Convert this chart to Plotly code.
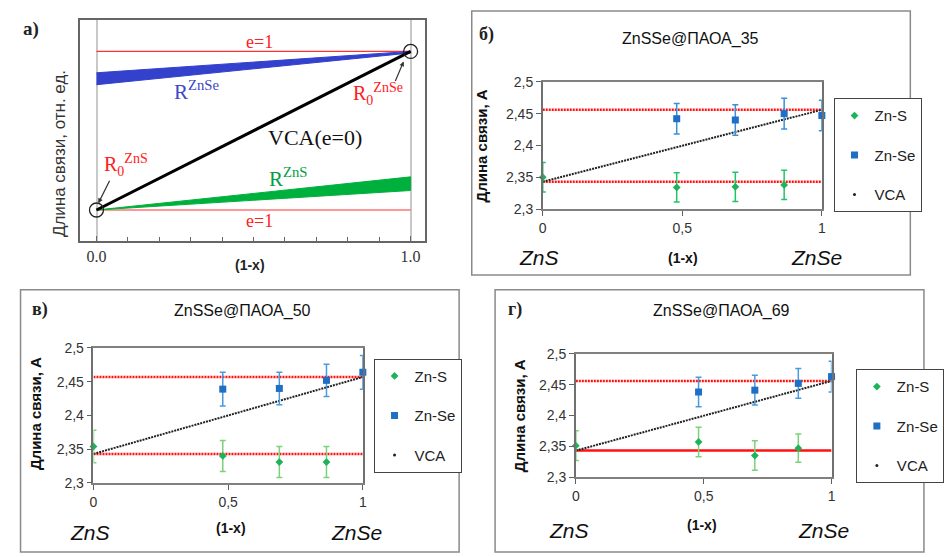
import plotly.graph_objects as go

W, H = 944, 557

# ---------------- data ----------------
# Panel а (schematic, relative units)
a_x = [0.0, 1.0]
a_vca = [0.0, 1.0]
a_e1_low = [0.0, 0.0]
a_e1_high = [1.0, 1.0]
a_rznse_lower = [0.79, 0.99]
a_rznse_upper = [0.865, 1.0]
a_rzns_lower = [0.0, 0.123]
a_rzns_upper = [0.0, 0.209]
a_tickvals = [i / 10 for i in range(11)]

# Panel б  ZnSSe@ПАОА_35
b_zns_x = [0.0, 0.48, 0.69, 0.865]
b_zns_y = [2.350, 2.334, 2.335, 2.338]
b_zns_e = [0.023, 0.023, 0.023, 0.023]
b_znse_x = [0.48, 0.69, 0.865, 1.0]
b_znse_y = [2.442, 2.440, 2.450, 2.447]
b_znse_e = [0.024, 0.024, 0.024, 0.024]
b_ref = [2.343, 2.456]

# Panel в  ZnSSe@ПАОА_50
c_zns_x = [0.0, 0.48, 0.69, 0.865]
c_zns_y = [2.354, 2.340, 2.331, 2.331]
c_zns_e = [0.024, 0.023, 0.023, 0.023]
c_znse_x = [0.48, 0.69, 0.865, 1.0]
c_znse_y = [2.439, 2.440, 2.452, 2.464]
c_znse_e = [0.025, 0.024, 0.024, 0.025]
c_ref = [2.343, 2.457]

# Panel г  ZnSSe@ПАОА_69
d_zns_x = [0.0, 0.48, 0.70, 0.87]
d_zns_y = [2.351, 2.357, 2.335, 2.347]
d_zns_e = [0.024, 0.024, 0.024, 0.023]
d_znse_x = [0.48, 0.70, 0.87, 1.0]
d_znse_y = [2.438, 2.441, 2.452, 2.463]
d_znse_e = [0.024, 0.024, 0.024, 0.025]
d_ref = [2.343, 2.456]

ends = [0.0, 1.0]
yticks = [2.3, 2.35, 2.4, 2.45, 2.5]


def px(x):
    return x / W


def py(y):
    return 1 - y / H


fig = go.Figure()

SANS = "Liberation Sans, Arial, sans-serif"
SERIF = "Liberation Serif, Times New Roman, serif"

# ---------------- panel а ----------------
fig.add_trace(go.Scatter(x=a_x, y=a_e1_low, mode="lines", line=dict(color="#ff3030", width=1.2),
                         xaxis="x", yaxis="y", showlegend=False, hoverinfo="skip"))
fig.add_trace(go.Scatter(x=a_x, y=a_e1_high, mode="lines", line=dict(color="#ff3030", width=1.2),
                         xaxis="x", yaxis="y", showlegend=False, hoverinfo="skip"))
fig.add_trace(go.Scatter(x=a_x + a_x[::-1], y=a_rznse_lower + a_rznse_upper[::-1], mode="lines",
                         fill="toself", fillcolor="#3341cc", line=dict(color="#3341cc", width=1),
                         xaxis="x", yaxis="y", showlegend=False, hoverinfo="skip"))
fig.add_trace(go.Scatter(x=a_x + a_x[::-1], y=a_rzns_lower + a_rzns_upper[::-1], mode="lines",
                         fill="toself", fillcolor="#00b03c", line=dict(color="#00b03c", width=1),
                         xaxis="x", yaxis="y", showlegend=False, hoverinfo="skip"))
fig.add_trace(go.Scatter(x=a_x, y=a_vca, mode="lines", line=dict(color="black", width=3),
                         xaxis="x", yaxis="y", showlegend=False, hoverinfo="skip"))
fig.add_trace(go.Scatter(x=a_x, y=a_vca, mode="markers",
                         marker=dict(symbol="circle-open", size=14, color="#222", line=dict(width=1.3)),
                         xaxis="x", yaxis="y", showlegend=False, hoverinfo="skip", cliponaxis=False))

# ---------------- panels б, в, г ----------------
panels = [
    ("2", "legend", b_zns_x, b_zns_y, b_zns_e, b_znse_x, b_znse_y, b_znse_e, b_ref, "#22c46a", "#3a90d8", "dot"),
    ("3", "legend2", c_zns_x, c_zns_y, c_zns_e, c_znse_x, c_znse_y, c_znse_e, c_ref, "#7ad27a", "#4a9ae0", "dot"),
    ("4", "legend3", d_zns_x, d_zns_y, d_zns_e, d_znse_x, d_znse_y, d_znse_e, d_ref, "#7ad27a", "#4a9ae0", "solid"),
]

for (n, leg, zx, zy, ze, sx, sy, se, ref, gerr, berr, lowdash) in panels:
    xa, ya = "x" + n, "y" + n
    fig.add_trace(go.Scatter(x=ends, y=[ref[1], ref[1]], mode="lines",
                             line=dict(color="#ff1010", width=2.5, dash="2px,1px"),
                             xaxis=xa, yaxis=ya, showlegend=False, hoverinfo="skip"))
    low_line = dict(color="#ff1010", width=2.5) if lowdash == "solid" else \
        dict(color="#ff1010", width=2.5, dash="2px,1px")
    fig.add_trace(go.Scatter(x=ends, y=[ref[0], ref[0]], mode="lines", line=low_line,
                             xaxis=xa, yaxis=ya, showlegend=False, hoverinfo="skip"))
    fig.add_trace(go.Scatter(x=ends, y=ref, mode="lines",
                             line=dict(color="#222", width=2, dash="2px,1px"),
                             xaxis=xa, yaxis=ya, showlegend=False, hoverinfo="skip"))
    fig.add_trace(go.Scatter(x=zx, y=zy, mode="markers", name="Zn-S",
                             marker=dict(symbol="diamond", size=6, color="#1db35a"),
                             error_y=dict(type="data", array=ze, color=gerr, thickness=1.5, width=3),
                             xaxis=xa, yaxis=ya, legend=leg, legendgroup=n + "a", cliponaxis=False))
    fig.add_trace(go.Scatter(x=sx, y=sy, mode="markers", name="Zn-Se",
                             marker=dict(symbol="square", size=7, color="#1f6fc4"),
                             error_y=dict(type="data", array=se, color=berr, thickness=1.5, width=3),
                             xaxis=xa, yaxis=ya, legend=leg, legendgroup=n + "b", cliponaxis=False))
    fig.add_trace(go.Scatter(x=[None], y=[None], mode="markers", name="VCA",
                             marker=dict(symbol="circle", size=3, color="#222"),
                             xaxis=xa, yaxis=ya, legend=leg, legendgroup=n + "c"))


# ---------------- layout ----------------
def xdom(l, r):
    return [px(l), px(r)]


def ydom(b, t):
    return [py(b), py(t)]


axis_common = dict(showline=True, mirror=True, linecolor="#808080", linewidth=1.5,
                   showgrid=False, zeroline=False, ticks="outside", ticklen=5,
                   tickcolor="#606060", tickfont=dict(family=SANS, size=14, color="#333"))

layout = dict(
    width=W, height=H, margin=dict(l=0, r=0, t=0, b=0),
    paper_bgcolor="white", plot_bgcolor="white", separators=", ",
    font=dict(family=SANS, color="#222"),
    xaxis=dict(domain=xdom(78, 433), range=[-0.053, 1.046], showline=True, mirror=True,
               linecolor="#666", linewidth=1.5, zeroline=False, tickvals=[0, 1], ticktext=["0.0", "1.0"],
               ticks="inside", ticklen=5, tickcolor="#666", showgrid=True, gridcolor="#c8c8c8", gridwidth=1.5,
               minor=dict(tickvals=a_tickvals, ticks="inside", ticklen=4, tickcolor="#666", showgrid=False),
               tickfont=dict(family=SERIF, size=16, color="#333"), anchor="y"),
    yaxis=dict(domain=ydom(240, 12), range=[-0.196, 1.2], showline=True, mirror=True,
               linecolor="#666", linewidth=1.5, zeroline=False, showticklabels=False, showgrid=False,
               ticks="", anchor="x"),
)

plot_boxes = {"2": (554, 841, 207, 76), "3": (92, 369, 489, 350), "4": (588, 851, 483, 356)}
for n, (l, r, b, t) in plot_boxes.items():
    layout["xaxis" + n] = dict(axis_common, domain=xdom(l, r), range=[0, 1.0], tickvals=[0, 0.5, 1],
                               anchor="y" + n)
    layout["yaxis" + n] = dict(axis_common, domain=ydom(b, t), range=[2.3, 2.5], tickvals=yticks,
                               anchor="x" + n, linecolor="#707070")

leg_common = dict(bgcolor="white", bordercolor="#444", borderwidth=1, xanchor="left", yanchor="top",
                  font=dict(family=SANS, size=15, color="#222"), tracegroupgap=17, itemwidth=30,
                  traceorder="grouped")
layout["legend"] = dict(leg_common, x=px(853), y=py(93))
layout["legend2"] = dict(leg_common, x=px(380), y=py(361))
layout["legend3"] = dict(leg_common, x=px(876), y=py(372))

fig.update_layout(**layout)

# outer frames of panels б, в, г
frames = [(481, 3, 932, 275), (17, 290, 468, 560), (505, 290, 946, 560)]
for (l, t, r, b) in frames:
    fig.add_shape(type="rect", xref="paper", yref="paper", x0=px(l), x1=px(r), y0=py(b), y1=py(t),
                  line=dict(color="#8a8a8a", width=1.5), fillcolor="rgba(0,0,0,0)", layer="below")


def ann(text, x, y, size, color="#222", family=SANS, angle=0, **kw):
    fig.add_annotation(text=text, x=px(x), y=py(y), xref="paper", yref="paper", showarrow=False,
                       font=dict(size=size, color=color, family=family), textangle=angle,
                       xanchor="center", yanchor="middle", **kw)


# panel а texts
ann("<b>а)</b>", 28, 22, 19, "#222", SERIF)
ann("Длина связи, отн. ед.", 57, 150, 17, "#333", SANS, -90)
ann("<b>(1-x)</b>", 253, 265, 14, "#222")
ann("e=1", 263, 35, 18, "#ff2020", SERIF)
ann("e=1", 263, 219, 18, "#ff2020", SERIF)
ann("R<sup>ZnSe</sup>", 198, 85, 21, "#3a48c8", SERIF)
ann("R<sub>0</sub><sup>ZnSe</sup>", 385, 89, 20, "#ff2020", SERIF)
ann("VCA(e=0)", 320, 133, 22, "#111", SERIF)
ann("R<sub>0</sub><sup>ZnS</sup>", 125, 162, 20, "#ff2020", SERIF)
ann("R<sup>ZnS</sup>", 293, 175, 21, "#00a040", SERIF)

# arrows to the circled end points
for (hx, hy, tx, ty) in [(97, 201, 109, 177), (411, 55, 402, 76)]:
    fig.add_annotation(x=px(hx), y=py(hy), xref="paper", yref="paper", ax=tx - hx, ay=ty - hy,
                       axref="pixel", ayref="pixel", text="", showarrow=True, arrowhead=2,
                       arrowsize=0.8, arrowwidth=1.2, arrowcolor="#333")

# panels б, в, г texts
texts = [
    ("<b>б)</b>", 496, 27, "ZnSSe@ПАОА_35", 706, 32, 491, 142, 550, 698, 835, 257, 257),
    ("<b>в)</b>", 37, 310, "ZnSSe@ПАОА_50", 245, 312, 33, 418, 88, 233, 362, 540, 535),
    ("<b>г)</b>", 525, 310, "ZnSSe@ПАОА_69", 738, 312, 531, 420, 581, 718, 843, 538, 532),
]
for (lab, lx, ly, title, tx, ty, yx, yy, zx, mx, sx, zy, my) in texts:
    ann(lab, lx, ly, 18, "#222", SERIF)
    ann(title, tx, ty, 16, "#111")
    ann("<b>Длина связи, А</b>", yx, yy, 15, "#111", SANS, -90)
    ann("<i>ZnS</i>", zx, zy, 21, "#111")
    ann("<b>(1-x)</b>", mx, my, 14, "#111")
    ann("<i>ZnSe</i>", sx, zy, 21, "#111")

fig.write_html("out.html")
